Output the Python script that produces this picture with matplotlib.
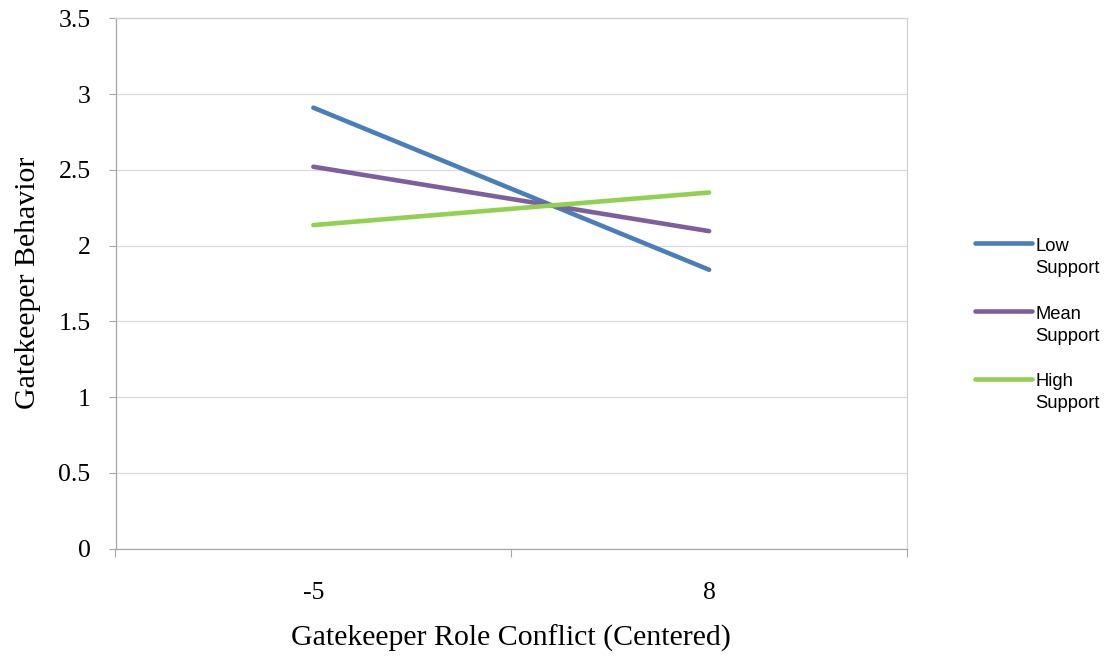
import numpy as np
import matplotlib
matplotlib.use("Agg")
import matplotlib.pyplot as plt
from matplotlib.legend_handler import HandlerLine2D
from matplotlib.lines import Line2D

# ---- data ----
categories = ["-5", "8"]
series_names = ["Low\nSupport", "Mean\nSupport", "High\nSupport"]
low_support = [2.91, 1.84]
mean_support = [2.52, 2.095]
high_support = [2.135, 2.35]
y_ticks = [0, 0.5, 1, 1.5, 2, 2.5, 3, 3.5]
y_tick_labels = ["0", "0.5", "1", "1.5", "2", "2.5", "3", "3.5"]

colors = ["#4A7EBB", "#7E5F9E", "#92D050"]

W, H = 1114, 662
fig = plt.figure(figsize=(W / 100, H / 100), dpi=100)
ax = fig.add_axes([115.5 / W, 1 - 548.5 / H, (907 - 115.5) / W, (548.5 - 18.3) / H])

x = np.arange(len(categories))
for vals, name, c in zip([low_support, mean_support, high_support], series_names, colors):
    ax.plot(x, vals, color=c, lw=3.3, solid_capstyle="round", label=name, zorder=3)

ax.set_xlim(-0.5, len(categories) - 0.5)
ax.set_ylim(0, 3.5)

serif = ["Liberation Serif", "DejaVu Serif"]
ax.set_yticks(y_ticks)
ax.set_yticklabels(y_tick_labels, fontfamily=serif, fontsize=18.5)
ax.set_xticks(x)
ax.set_xticklabels(categories, fontfamily=serif, fontsize=18.5)
ax.set_xticks(np.arange(-0.5, len(categories)), minor=True)
ax.tick_params(axis="x", which="major", length=0, pad=24)
ax.tick_params(axis="x", which="minor", length=5.5, width=0.8, color="#A6A6A6", direction="out")
ax.tick_params(axis="y", which="major", length=5, width=0.8, color="#A6A6A6", direction="out", pad=13)

ax.grid(axis="y", color="#D9D9D9", lw=0.9, zorder=0)
ax.set_axisbelow(True)
for s in ["top", "right"]:
    ax.spines[s].set_color("#D0D0D0")
    ax.spines[s].set_linewidth(0.9)
for s in ["left", "bottom"]:
    ax.spines[s].set_color("#A6A6A6")
    ax.spines[s].set_linewidth(0.9)

fig.text(28 / W, 1 - 283 / H, "Gatekeeper Behavior", rotation=90, ha="center", va="center",
         fontfamily=serif, fontsize=21.5)
fig.text(511 / W, 1 - 638 / H, "Gatekeeper Role Conflict (Centered)", ha="center", va="center",
         fontfamily=serif, fontsize=21.5)

leg_fs = 13.2


class TopLine(HandlerLine2D):
    def create_artists(self, legend, orig_handle, xdescent, ydescent, width, height, fontsize, trans):
        arts = super().create_artists(legend, orig_handle, xdescent, ydescent, width, height, fontsize, trans)
        for a in arts:
            if isinstance(a, Line2D):
                a.set_ydata(np.asarray(a.get_ydata()) + 0.78 * fontsize)
        return arts


handles, labels = ax.get_legend_handles_labels()
leg = fig.legend(handles, labels, loc="upper left", bbox_to_anchor=(975 / W, 1 - 238 / H),
                 frameon=False, borderpad=0, borderaxespad=0,
                 prop={"family": ["Liberation Sans", "DejaVu Sans"], "size": leg_fs},
                 handlelength=3.1, handletextpad=0.2, labelspacing=1.55,
                 handler_map={Line2D: TopLine()})
for t in leg.get_texts():
    t.set_linespacing(1.4)

fig.savefig("out.png", dpi=100)
